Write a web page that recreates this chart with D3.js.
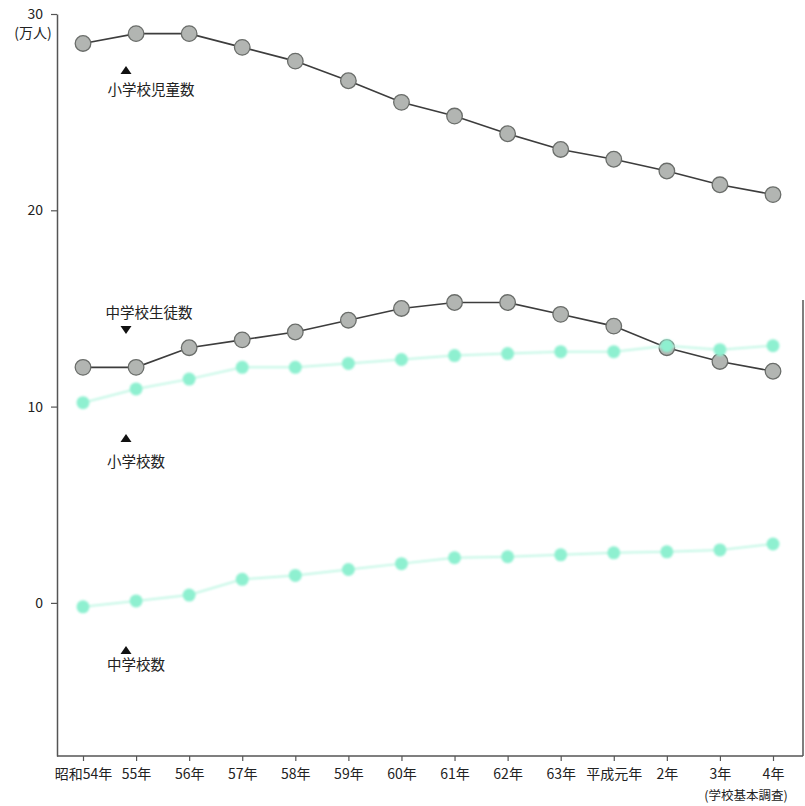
<!DOCTYPE html>
<html><head><meta charset="utf-8">
<script src="https://cdn.jsdelivr.net/npm/d3@7"></script>
<style>
html,body{margin:0;padding:0;background:#fff;}
svg{display:block;}
text{font-family:"Noto Sans CJK JP","Noto Sans",sans-serif;fill:#222;}
</style></head>
<body>
<svg id="chart" width="805" height="806"></svg>
<script>
const categories = ["昭和54年","55年","56年","57年","58年","59年","60年","61年","62年","63年","平成元年","2年","3年","4年"];
const elementaryPupils = [28.5,29.0,29.0,28.3,27.6,26.6,25.5,24.8,23.9,23.1,22.6,22.0,21.3,20.8];
const juniorPupils = [12.0,12.0,13.0,13.4,13.8,14.4,15.0,15.3,15.3,14.7,14.1,13.0,12.3,11.8];
const elementarySchools = [10.2,10.9,11.4,12.0,12.0,12.2,12.4,12.6,12.7,12.8,12.8,13.1,12.9,13.1];
const juniorSchools = [-0.2,0.1,0.4,1.2,1.4,1.7,2.0,2.3,2.35,2.45,2.55,2.6,2.7,3.0];
const yTicks = [0,10,20,30];

const svg = d3.select("#chart");
const x = d3.scalePoint().domain(categories).range([83,773]);
const y = d3.scaleLinear().domain([-7.8,30]).range([756,14]);

const defs = svg.append("defs");
defs.append("filter").attr("id","soft").attr("x","-50%").attr("y","-50%").attr("width","200%").attr("height","200%")
  .append("feGaussianBlur").attr("stdDeviation",1.1);

// left axis
const ya = svg.append("g").attr("transform","translate(57,0)")
  .call(d3.axisLeft(y).tickValues(yTicks).tickSize(6).tickSizeOuter(0).tickPadding(8));
ya.select(".domain").attr("stroke","#555").attr("stroke-width",1.5);
ya.selectAll(".tick line").attr("stroke","#555").attr("stroke-width",1.2);
ya.selectAll(".tick text").attr("font-size",14).attr("font-family","'Noto Sans CJK JP',sans-serif").attr("fill","#222");

svg.append("text").attr("x",33).attr("y",38).attr("text-anchor","middle").attr("font-size",14).text("(万人)");

// bottom axis
const xa = svg.append("g").attr("transform","translate(0,756)")
  .call(d3.axisBottom(x).tickSize(5).tickSizeOuter(0).tickPadding(8));
xa.select(".domain").remove();
xa.selectAll(".tick line").attr("stroke","#555").attr("stroke-width",1.2);
xa.selectAll(".tick text").attr("font-size",14).attr("font-family","'Noto Sans CJK JP',sans-serif").attr("fill","#222");
svg.append("line").attr("x1",57).attr("x2",803).attr("y1",756).attr("y2",756).attr("stroke","#555").attr("stroke-width",1.5);
svg.append("line").attr("x1",803).attr("x2",803).attr("y1",300).attr("y2",756).attr("stroke","#555").attr("stroke-width",1.5);

svg.append("text").attr("x",746).attr("y",800).attr("text-anchor","middle").attr("font-size",12.5)
  .attr("font-family","'DejaVu Serif',serif").attr("fill","#444").text("(学校基本調査)");

const line = d3.line().x((d,i)=>x(categories[i])).y(d=>y(d));

function graySeries(vals){
  svg.append("path").datum(vals).attr("d",line).attr("fill","none").attr("stroke","#3d3d3d").attr("stroke-width",1.6);
  svg.append("g").selectAll("circle").data(vals).join("circle")
    .attr("cx",(d,i)=>x(categories[i])).attr("cy",d=>y(d)).attr("r",7.8)
    .attr("fill","#b2b5b2").attr("stroke","#6a6d6a").attr("stroke-width",1.3);
}
function tealSeries(vals){
  const g = svg.append("g").attr("filter","url(#soft)");
  g.append("path").datum(vals).attr("d",line).attr("fill","none").attr("stroke","#c2f7e5").attr("stroke-width",2);
  g.selectAll("circle").data(vals).join("circle")
    .attr("cx",(d,i)=>x(categories[i])).attr("cy",d=>y(d)).attr("r",6.5)
    .attr("fill","#8ef0d0");
}
graySeries(elementaryPupils);
graySeries(juniorPupils);
tealSeries(elementarySchools);
tealSeries(juniorSchools);

// annotations
function tri(cx,cy,up){
  const h=8,w=5.5;
  const p = up ? [[cx,cy-h/2],[cx+w,cy+h/2],[cx-w,cy+h/2]] : [[cx-w,cy-h/2],[cx+w,cy-h/2],[cx,cy+h/2]];
  svg.append("path").attr("d","M"+p.map(q=>q.join(",")).join("L")+"Z").attr("fill","#111");
}
tri(126,70,true);
svg.append("text").attr("x",151).attr("y",95).attr("text-anchor","middle").attr("font-size",14.5).text("小学校児童数");
svg.append("text").attr("x",149).attr("y",318).attr("text-anchor","middle").attr("font-size",14.5).text("中学校生徒数");
tri(126,330,false);
tri(126,438,true);
svg.append("text").attr("x",136).attr("y",467).attr("text-anchor","middle").attr("font-size",14.5).text("小学校数");
tri(126,650,true);
svg.append("text").attr("x",136).attr("y",670).attr("text-anchor","middle").attr("font-size",14.5).text("中学校数");
</script>
</body></html>
